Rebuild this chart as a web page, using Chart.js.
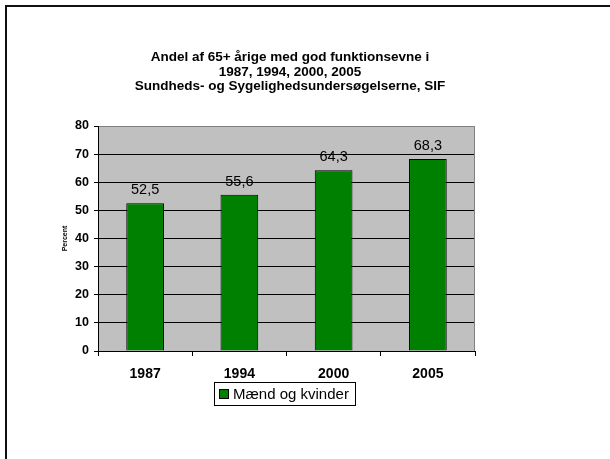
<!DOCTYPE html>
<html>
<head>
<meta charset="utf-8">
<script src="https://cdn.jsdelivr.net/npm/chart.js@4.4.1/dist/chart.umd.min.js"></script>
<style>
  html, body { margin: 0; padding: 0; background: #fff; }
  #wrap { position: relative; width: 610px; height: 459px; }
</style>
</head>
<body>
<div id="wrap"><canvas id="c" width="610" height="459"></canvas></div>
<script>
const categories = ['1987', '1994', '2000', '2005'];
const values = [52.5, 55.6, 64.3, 68.3];
const seriesName = 'Mænd og kvinder';
const titleLines = [
  'Andel af 65+ årige med god funktionsevne i',
  '1987, 1994, 2000, 2005',
  'Sundheds- og Sygelighedsundersøgelserne, SIF'
];
const yAxisTitle = 'Percent';
const yMin = 0, yMax = 80, yStep = 10;

const FONT = "'Liberation Sans', Arial, sans-serif";
Chart.defaults.font.family = FONT;
Chart.defaults.color = '#000';

const GREEN = '#008000';

const decor = {
  id: 'decor',
  beforeDraw(chart) {
    const { ctx, chartArea: a } = chart;
    ctx.save();
    ctx.fillStyle = '#fff';
    ctx.fillRect(0, 0, chart.width, chart.height);
    ctx.fillStyle = '#C0C0C0';
    ctx.fillRect(a.left, a.top, a.right - a.left, a.bottom - a.top);
    ctx.restore();
  },
  beforeDatasetsDraw(chart) {
    const { ctx, chartArea: a } = chart;
    ctx.save();
    ctx.strokeStyle = '#808080';
    ctx.lineWidth = 1;
    ctx.beginPath();
    ctx.moveTo(Math.round(a.right) - 0.5, a.top);
    ctx.lineTo(Math.round(a.right) - 0.5, a.bottom);
    ctx.stroke();
    ctx.restore();
  },
  afterDatasetsDraw(chart) {
    const { ctx } = chart;
    const meta = chart.getDatasetMeta(0);
    ctx.save();
    ctx.fillStyle = '#000';
    ctx.font = '14.5px ' + FONT;
    ctx.textAlign = 'center';
    ctx.textBaseline = 'middle';
    meta.data.forEach((bar, i) => {
      const v = chart.data.datasets[0].data[i];
      ctx.fillText(v.toFixed(1).replace('.', ','), bar.x, bar.y - 13);
    });
    ctx.restore();
  },
  afterDraw(chart) {
    const { ctx } = chart;
    ctx.save();
    // title
    ctx.fillStyle = '#000';
    ctx.font = 'bold 13.5px ' + FONT;
    ctx.textAlign = 'center';
    ctx.textBaseline = 'middle';
    titleLines.forEach((t, i) => ctx.fillText(t, 290, 57.5 + i * 14.3));
    // outer frame
    ctx.strokeStyle = '#111';
    ctx.lineWidth = 2;
    ctx.beginPath();
    ctx.moveTo(6, chart.height + 2);
    ctx.lineTo(6, 6);
    ctx.lineTo(chart.width + 2, 6);
    ctx.stroke();
    // legend
    const lx = 214.5, ly = 382.5, lw = 141, lh = 23;
    ctx.lineWidth = 1;
    ctx.strokeStyle = '#000';
    ctx.fillStyle = '#fff';
    ctx.fillRect(lx, ly, lw, lh);
    ctx.strokeRect(lx, ly, lw, lh);
    ctx.fillStyle = GREEN;
    ctx.fillRect(219.5, 389.5, 9, 9);
    ctx.strokeRect(219.5, 389.5, 9, 9);
    ctx.fillStyle = '#000';
    ctx.font = '15px ' + FONT;
    ctx.textAlign = 'left';
    ctx.textBaseline = 'middle';
    ctx.fillText(chart.data.datasets[0].label, 233, 394.5);
    ctx.restore();
  }
};

new Chart(document.getElementById('c'), {
  type: 'bar',
  data: {
    labels: categories,
    datasets: [{
      label: seriesName,
      data: values,
      backgroundColor: GREEN,
      borderColor: '#000',
      borderWidth: 1,
      categoryPercentage: 1.0,
      barPercentage: 0.4
    }]
  },
  options: {
    responsive: false,
    animation: false,
    devicePixelRatio: 1,
    layout: { padding: { left: 40, right: 135, top: 126, bottom: 78 } },
    plugins: {
      legend: { display: false },
      tooltip: { enabled: false },
      title: { display: false }
    },
    scales: {
      x: {
        grid: {
          display: true,
          drawOnChartArea: false,
          drawTicks: true,
          tickLength: 5,
          color: '#000',
          offset: true
        },
        border: { display: true, color: '#000', width: 1 },
        ticks: { color: '#000', font: { size: 14, weight: 'bold' }, padding: 10, maxRotation: 0 },
        afterFit(scale) { scale.height = 30; }
      },
      y: {
        min: yMin,
        max: yMax,
        ticks: { stepSize: yStep, color: '#000', font: { size: 12.5, weight: 'bold' }, padding: 5 },
        grid: {
          color: (c) => (c.tick && c.tick.value === yMax) ? '#808080' : '#000',
          tickColor: '#000',
          tickLength: 4,
          drawTicks: true
        },
        border: { display: true, color: '#000', width: 1 },
        title: {
          display: true,
          text: yAxisTitle,
          color: '#000',
          font: { size: 7, weight: 'bold' },
          padding: { top: 21, bottom: 0 }
        },
        afterFit(scale) { scale.width = 58; }
      }
    }
  },
  plugins: [decor]
});
</script>
</body>
</html>
